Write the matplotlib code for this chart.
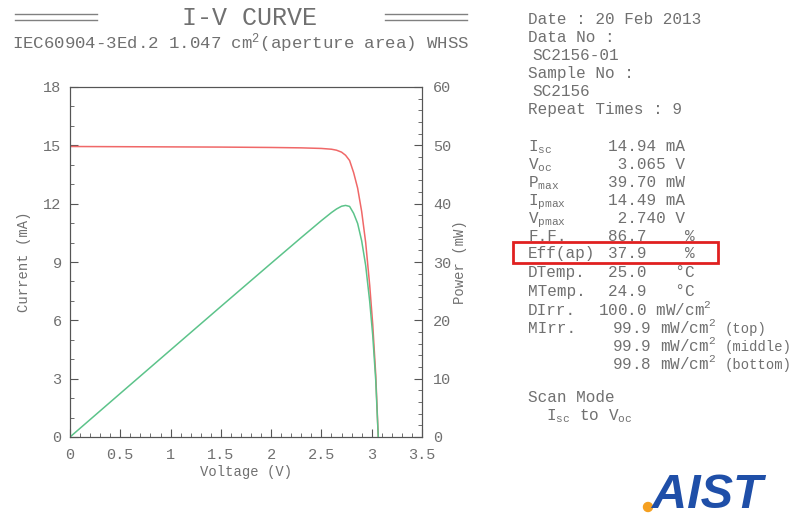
import matplotlib
matplotlib.use("Agg")
import matplotlib.pyplot as plt
from matplotlib.lines import Line2D
from matplotlib.patches import Rectangle, Circle
from matplotlib.ticker import MultipleLocator

plt.rcParams['font.family'] = ['Liberation Mono', 'DejaVu Sans Mono']
plt.rcParams['mathtext.fontset'] = 'custom'
plt.rcParams['mathtext.rm'] = 'Liberation Mono'
plt.rcParams['mathtext.it'] = 'Liberation Mono'

# data
voltage = [0.0, 0.5, 1.0, 1.5, 2.0, 2.3, 2.5, 2.6, 2.65, 2.7, 2.74, 2.78,
           2.82, 2.86, 2.9, 2.94, 2.98, 3.01, 3.04, 3.065]
current = [14.94, 14.93, 14.92, 14.91, 14.89, 14.87, 14.84, 14.80, 14.75, 14.65,
           14.49, 14.22, 13.6, 12.8, 11.6, 10.0, 7.8, 5.8, 3.2, 0.0]
power = [0.0, 7.47, 14.92, 22.37, 29.78, 34.20, 37.10, 38.48, 39.09, 39.56,
         39.70, 39.53, 38.35, 36.61, 33.64, 29.40, 23.24, 17.46, 9.73, 0.0]

x_ticks = [0, 0.5, 1, 1.5, 2, 2.5, 3, 3.5]
x_tick_labels = ['0', '0.5', '1', '1.5', '2', '2.5', '3', '3.5']

info_top = ['Date : 20 Feb 2013', 'Data No :', 'SC2156-01', 'Sample No :',
            'SC2156', 'Repeat Times : 9']
info_indent = [0, 0, 4, 0, 4, 0]
param_names = [r'$\mathrm{I_{sc}}$', r'$\mathrm{V_{oc}}$', r'$\mathrm{P_{max}}$',
               r'$\mathrm{I_{pmax}}$', r'$\mathrm{V_{pmax}}$', 'F.F.', 'Eff(ap)',
               'DTemp.', 'MTemp.', 'DIrr.', 'MIrr.', '', '']
param_values = ['14.94 mA', ' 3.065 V', '39.70 mW', '14.49 mA', ' 2.740 V',
                '86.7    %', '37.9    %', '25.0   °C', '24.9   °C',
                '100.0 mW/cm$^2$', '99.9 mW/cm$^2$', '99.9 mW/cm$^2$',
                '99.8 mW/cm$^2$']
param_notes = ['', '', '', '', '', '', '', '', '', '', '(top)', '(middle)', '(bottom)']
row_y = [146, 164, 182, 200, 218, 236, 253, 272, 291, 310, 328, 346, 364]
value_shift = [0, 0, 0, 0, 0, 0, 0, 0, 0, -9.6, 4, 4, 4]

W, H = 792, 519
gray = '#707070'
fs = 11.5
fig = plt.figure(figsize=(W / 100, H / 100), dpi=100)


def px(x, y):
    return x / W, 1 - y / H


ax = fig.add_axes([70 / W, 1 - 437 / H, 352 / W, 350 / H])
ax2 = ax.twinx()

ax.plot(voltage, current, color='#f06868', lw=1.1)
ax2.plot(voltage, power, color='#5cc38a', lw=1.1)

ax.set_xlim(0, 3.5)
ax.set_ylim(0, 18)
ax2.set_ylim(0, 60)
ax.set_xticks(x_ticks)
ax.set_xticklabels(x_tick_labels)
ax.xaxis.set_minor_locator(MultipleLocator(0.1))
ax.yaxis.set_major_locator(MultipleLocator(3))
ax.yaxis.set_minor_locator(MultipleLocator(1))
ax2.yaxis.set_major_locator(MultipleLocator(10))
ax2.yaxis.set_minor_locator(MultipleLocator(2))

ax.tick_params(which='both', direction='in', top=False, right=False,
               colors='#555555', labelcolor=gray, labelsize=11)
ax.tick_params(axis='x', pad=8)
ax.tick_params(axis='y', pad=6)
ax.tick_params(which='major', length=6)
ax.tick_params(which='minor', length=3)
ax2.tick_params(which='both', direction='in', colors='#555555',
                labelcolor=gray, labelsize=11, pad=8)
ax2.tick_params(which='major', length=6)
ax2.tick_params(which='minor', length=3)
for a in (ax, ax2):
    for s in a.spines.values():
        s.set_color('#555555')

ax.set_xlabel('Voltage (V)', color=gray, fontsize=10, labelpad=2)
ax.set_ylabel('Current (mA)', color=gray, fontsize=10, labelpad=9)
ax2.set_ylabel('Power (mW)', color=gray, fontsize=10, labelpad=1)

# heading
fig.text(*px(249, 18), 'I-V CURVE', ha='center', va='center', fontsize=18, color=gray)
fig.text(*px(241, 49), 'IEC60904-3Ed.2 1.047 cm$^{2}$(aperture area) WHSS',
         ha='center', va='baseline', fontsize=12.5, color=gray)
for x0, x1 in [(15, 97), (385, 467)]:
    for y in (14, 20):
        fig.add_artist(Line2D([x0 / W, x1 / W], [1 - y / H, 1 - y / H],
                              color='#808080', lw=1, transform=fig.transFigure))

# info block (baseline placed ~5px below the row centre)
for i, t in enumerate(info_top):
    fig.text(*px(528 + info_indent[i], 24 + 18 * i), t, va='baseline',
             fontsize=fs, color=gray)
for i, (n, v) in enumerate(zip(param_names, param_values)):
    y = row_y[i] + 5
    if n:
        fig.text(*px(528, y), n, va='baseline', fontsize=fs, color=gray)
    fig.text(*px(608 + value_shift[i], y), v, va='baseline', fontsize=fs, color=gray)
    if param_notes[i]:
        fig.text(*px(725, y), param_notes[i], va='baseline', fontsize=10, color=gray)
fig.text(*px(528, 402), 'Scan Mode', va='baseline', fontsize=fs, color=gray)
fig.text(*px(546, 420), r'$\mathrm{I_{sc}}$ to $\mathrm{V_{oc}}$', va='baseline',
         fontsize=fs, color=gray)

fig.add_artist(Rectangle((513 / 100, (H - 263) / 100), 2.05, 0.21, fill=False,
                         edgecolor='#e02020', lw=2, transform=fig.dpi_scale_trans))

# logo
fig.add_artist(Circle((6.48, (H - 507) / 100), 0.045, color='#f5a020',
                      transform=fig.dpi_scale_trans))
fig.text(*px(652, 518), 'AIST', family='Liberation Sans', fontsize=35,
         fontweight='bold', style='italic', color='#1f4fa8', va='bottom')

fig.savefig('out.png', dpi=100)
